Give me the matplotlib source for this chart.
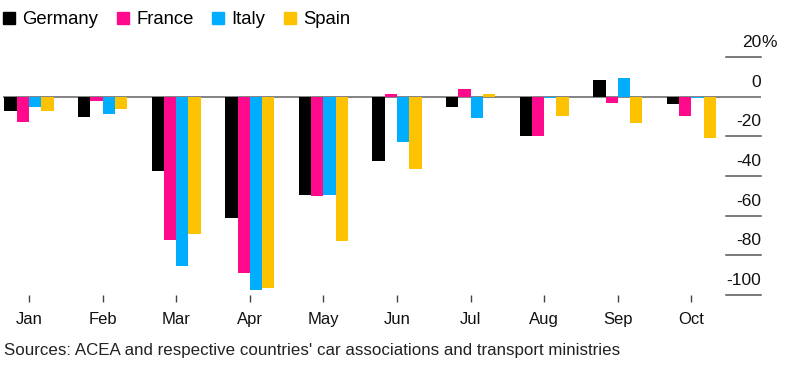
import numpy as np
import matplotlib
matplotlib.use("Agg")
import matplotlib.pyplot as plt
from matplotlib.lines import Line2D

plt.rcParams["font.family"] = ["Liberation Sans", "DejaVu Sans"]

months = ["Jan", "Feb", "Mar", "Apr", "May", "Jun", "Jul", "Aug", "Sep", "Oct"]
countries = ["Germany", "France", "Italy", "Spain"]
colors = ["#000000", "#ff0a8c", "#00adfe", "#fec300"]

# year-over-year change in new car registrations, %
germany = [-7.3, -10.5, -37.7, -61.1, -49.5, -32.3, -5.4, -19.8, 8.4, -3.6]
france = [-13.0, -2.3, -72.2, -88.8, -50.3, 1.2, 3.9, -19.8, -3.0, -9.5]
italy = [-5.2, -8.7, -85.4, -97.6, -49.6, -23.1, -11.0, -0.7, 9.5, -0.8]
spain = [-7.3, -6.0, -69.3, -96.5, -72.7, -36.7, 1.1, -9.9, -13.5, -21.0]
series = [germany, france, italy, spain]

grid_vals = [20, 0, -20, -40, -60, -80, -100]
grid_labels = ["20", "0", "-20", "-40", "-60", "-80", "-100"]

W, H = 798, 368
fig = plt.figure(figsize=(W / 100, H / 100), dpi=100)
ax = fig.add_axes([3 / W, (H - 295) / H, 758 / W, 238 / H])

x = np.arange(len(months))
bw = 0.167
for k, (vals, c) in enumerate(zip(series, colors)):
    ax.bar(x + (k - 1.5) * bw, vals, width=bw, color=c, zorder=2, linewidth=0)

xmin, xmax = -26 / 73.6, 732 / 73.6
ax.set_xlim(xmin, xmax)
ax.set_ylim(-100, 20)

gray = "#7a7a7a"
ax.axhline(0, color=gray, lw=1.3, zorder=1)
gx0 = xmax - 35 / 73.6
for v, lab in zip(grid_vals, grid_labels):
    if v != 0:
        ax.plot([gx0, xmax], [v, v], color="#555555", lw=1.1, clip_on=False, zorder=1)
    ax.text(xmax, v + 5.0, lab, ha="right", va="baseline", fontsize=12.5, color="#111111")
    if v == 20:
        ax.text(xmax, v + 5.0, "%", ha="left", va="baseline", fontsize=12.5, color="#111111")

ax.set_xticks(x)
ax.set_xticklabels(months, fontsize=12, color="#111111")
ax.set_yticks([])
ax.tick_params(axis="x", length=5, width=1, color="#444444", pad=7.5)
for s in ax.spines.values():
    s.set_visible(False)

handles = [Line2D([], [], marker="s", linestyle="", markersize=8.2, color=c) for c in colors]
fig.legend(handles, countries, loc="upper left", bbox_to_anchor=(3 / W, 1 - 11 / H),
           ncol=4, frameon=False, fontsize=13.3, handlelength=0.65, handletextpad=0.4,
           columnspacing=1.0, borderpad=0, borderaxespad=0)

fig.text(4 / W, 1 - 350 / H, "Sources: ACEA and respective countries' car associations and transport ministries",
         ha="left", va="center", fontsize=12.2, color="#222222")

fig.savefig("out.png", dpi=100)
